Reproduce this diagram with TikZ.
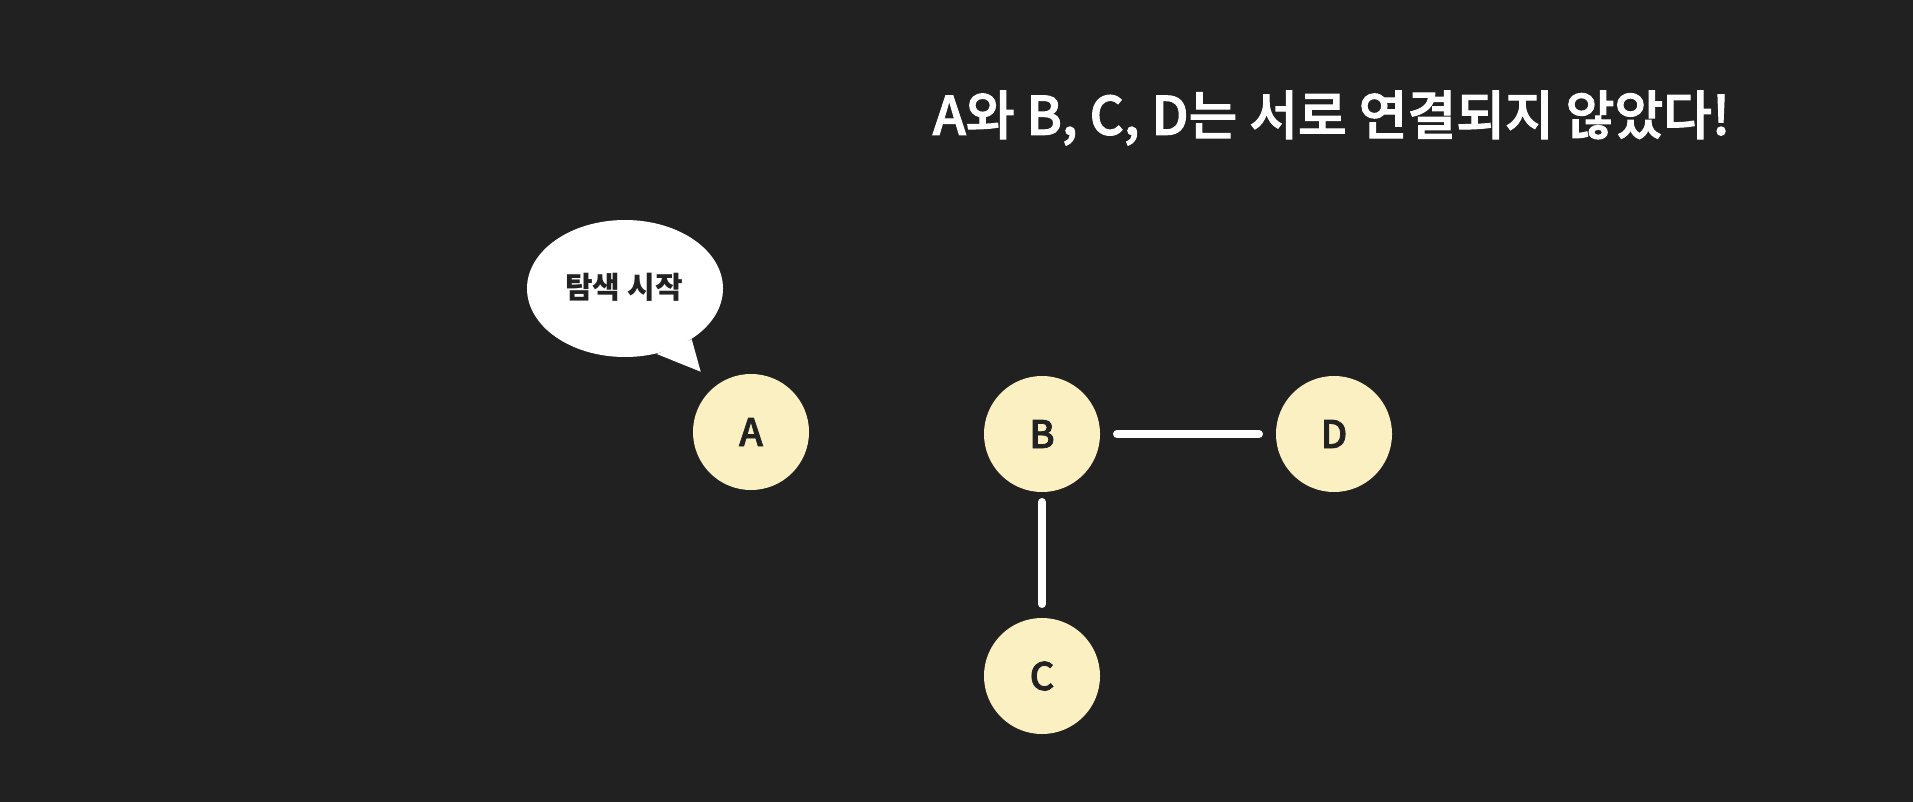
\documentclass[tikz,border=0pt]{standalone}
\usepackage{fontspec}
\setmainfont{Noto Sans CJK KR}
\newfontfamily\kr{Noto Sans CJK KR}
\newfontfamily\krsemi{Noto Sans CJK KR Medium}[FakeBold=2]
\definecolor{bgc}{HTML}{212121}
\definecolor{nodefill}{HTML}{FAF0C2}
\definecolor{inktext}{HTML}{222222}
\tikzset{
  vertex/.style={circle, fill=nodefill, minimum size=116pt, inner sep=0pt, outer sep=0pt,
    text=inktext, font=\krsemi\fontsize{38}{44}\selectfont},
  link/.style={draw=white, line width=8pt, line cap=round},
  titletext/.style={text=white, font=\krsemi\fontsize{53}{60}\selectfont, inner sep=0pt},
  bubbletext/.style={text=inktext, font=\kr\bfseries\fontsize{30}{36}\selectfont, inner sep=0pt}
}
\begin{document}
\begin{tikzpicture}[x=1pt,y=-1pt]
\fill[bgc] (0,0) rectangle (1913,802);
\useasboundingbox (0,0) rectangle (1913,802);
% title
\node[titletext] (title) at (1331.5,118) {A와 B, C, D는 서로 연결되지 않았다!};
% speech bubble
\fill[white] (625,288.5) ellipse [x radius=98, y radius=68.5];
\fill[white] (691.7,339.3) -- (700.7,371.7) -- (656.7,354) -- cycle;
\node[bubbletext] (bubble) at (624,287) {탐색 시작};
% vertices
\node[vertex] (A) at (751,432) {A};
\node[vertex] (B) at (1042,434) {B};
\node[vertex] (D) at (1334,434) {D};
\node[vertex] (C) at (1042,676) {C};
% edges
\draw[link, shorten <=17pt, shorten >=17pt] (B) -- (D);
\draw[link, shorten <=10pt, shorten >=14pt] (B) -- (C);
\end{tikzpicture}
\end{document}
